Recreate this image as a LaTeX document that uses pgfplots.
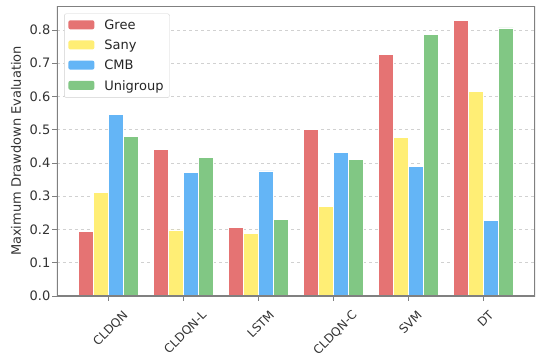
\documentclass[border=0pt]{standalone}
\usepackage{fontspec}
\setmainfont{DejaVu Sans}
\usepackage{graphicx}
\usepackage{pgfplots}
\pgfplotsset{compat=1.18}

\definecolor{cGree}{HTML}{E57373}
\definecolor{cSany}{HTML}{FFEE75}
\definecolor{cCMB}{HTML}{64B5F6}
\definecolor{cUni}{HTML}{81C784}
\definecolor{spine}{HTML}{808080}

% Maximum drawdown per model (x = model index)
\pgfplotstableread{
x Gree  Sany  CMB   Uni
0 0.194 0.311 0.547 0.481
1 0.440 0.199 0.371 0.416
2 0.207 0.189 0.376 0.231
3 0.500 0.269 0.432 0.410
4 0.727 0.476 0.389 0.786
5 0.829 0.616 0.227 0.806
}\mdd

\newcommand{\rl}[1]{\rotatebox{45}{#1}}

\begin{document}
\begin{tikzpicture}[x=1pt,y=1pt]
\begin{axis}[
  scale only axis,
  width=478pt, height=290pt,
  xmin=-0.69, xmax=5.69,
  ymin=0, ymax=0.872,
  ybar=0pt, bar width=15pt,
  xtick={0,...,5},
  xticklabels={\rl{CLDQN},\rl{CLDQN-L},\rl{LSTM},\rl{CLDQN-C},\rl{SVM},\rl{DT}},
  xticklabel style={anchor=north, font=\fontsize{12}{13}\selectfont, text=black!80,
    inner sep=2pt, yshift=-7pt, xshift=2pt},
  ytick={0,0.1,...,0.8},
  yticklabel style={font=\fontsize{13}{14}\selectfont, text=black!80, inner sep=2pt},
  /pgf/number format/assume math mode=true,
  /pgf/number format/.cd, fixed, fixed zerofill, precision=1, /pgfplots/.cd,
  ylabel={Maximum Drawdown Evaluation},
  ylabel style={font=\fontsize{13}{14}\selectfont, text=black!80},
  ylabel shift=3pt,
  axis line style={draw=none},
  tick style={spine, line width=0.8pt},
  tick align=outside,
  major tick length=4.5pt,
  xtick pos=bottom, ytick pos=left,
  ymajorgrids,
  grid style={dashed, black!18, line width=0.7pt},
  legend style={at={(0.015,0.974)}, anchor=north west, font=\fontsize{13}{15}\selectfont,
    draw=black!18, rounded corners=2pt, row sep=5pt, inner sep=4pt, text=black!85},
  legend cell align=left,
  legend image code/.code={
    \path[#1, draw=none] (0pt,-4pt) rectangle (26pt,5pt);
    \path[draw=none, fill=none] (26pt,0pt) -- (34pt,0pt);},
  every axis plot/.append style={draw=white, line width=0.5pt},
]
\addplot[fill=cGree] table[x=x, y=Gree] {\mdd};
\addplot[fill=cSany] table[x=x, y=Sany] {\mdd};
\addplot[fill=cCMB]  table[x=x, y=CMB]  {\mdd};
\addplot[fill=cUni]  table[x=x, y=Uni]  {\mdd};
\legend{Gree,Sany,CMB,Unigroup}
% frame drawn over the bars
\draw[spine, line width=1.2pt] (rel axis cs:0,0) rectangle (rel axis cs:1,1);
\end{axis}
\pgfresetboundingbox
\path (-57pt,-60pt) rectangle (480pt,296pt);
\end{tikzpicture}
\end{document}
